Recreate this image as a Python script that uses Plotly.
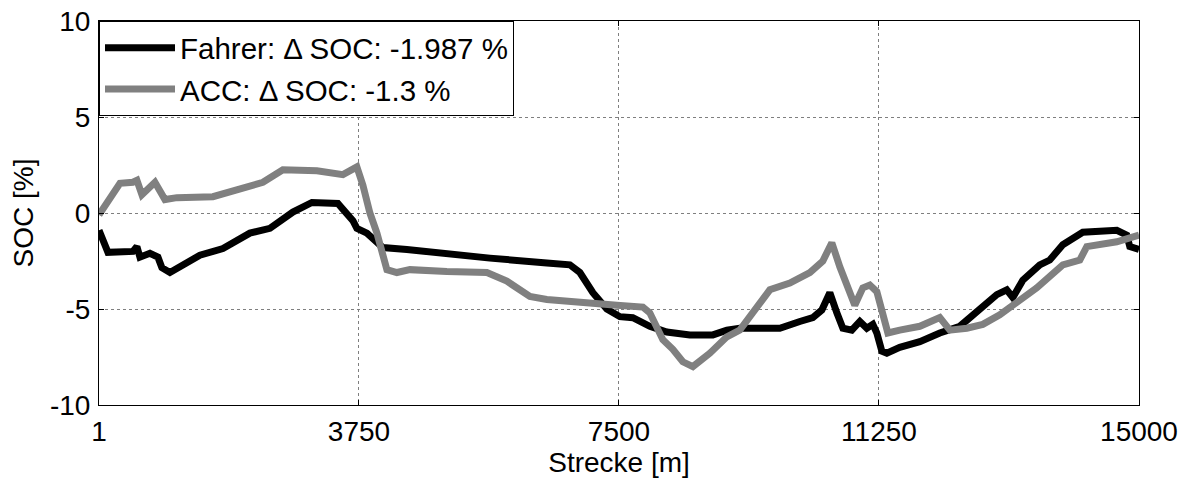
import plotly.graph_objects as go

# Strecke [m] and SOC [%]
fahrer_x = [1, 130, 490, 548, 591, 735, 851, 908, 1024, 1269, 1456, 1788, 2177, 2466,
            2797, 3072, 3446, 3663, 3720, 3865, 4095, 4441, 4917, 5638, 6460, 6792,
            6936, 7124, 7325, 7513, 7700, 7945, 8190, 8522, 8854, 9056, 9243, 9820,
            10108, 10296, 10426, 10541, 10642, 10729, 10858, 10974, 11075, 11161,
            11219, 11291, 11363, 11550, 11839, 12127, 12416, 12603, 12805, 12949,
            13093, 13180, 13324, 13569, 13713, 13901, 14189, 14680, 14824, 14867, 15000]
fahrer_soc = [-0.9, -2.05, -2.0, -1.75, -2.3, -2.1, -2.3, -2.85, -3.1, -2.6, -2.2, -1.85,
              -1.05, -0.8, 0.05, 0.55, 0.5, -0.4, -0.8, -1.05, -1.8, -1.9, -2.1, -2.35,
              -2.6, -2.7, -3.1, -4.15, -5.0, -5.4, -5.45, -5.9, -6.2, -6.35, -6.35,
              -6.1, -6.0, -6.0, -5.65, -5.45, -5.05, -4.15, -5.2, -6.0, -6.1, -5.65,
              -6.0, -5.8, -6.25, -7.2, -7.3, -7.0, -6.7, -6.25, -5.9, -5.3, -4.7,
              -4.25, -4.0, -4.4, -3.5, -2.7, -2.45, -1.65, -1.0, -0.9, -1.15, -1.75, -1.9]

acc_x = [1, 159, 303, 490, 548, 620, 808, 952, 1125, 1644, 2033, 2365, 2653, 3144,
         3519, 3720, 3807, 3908, 4009, 4153, 4297, 4485, 5018, 5595, 5883, 6215, 6460,
         6936, 7470, 7845, 7945, 8133, 8277, 8421, 8566, 8811, 9056, 9243, 9489, 9676,
         9964, 10253, 10440, 10570, 10685, 10786, 10901, 11017, 11118, 11219, 11291,
         11378, 11550, 11839, 12127, 12272, 12517, 12747, 12992, 13137, 13526, 13901,
         14146, 14247, 14680, 15000]
acc_soc = [-0.1, 0.85, 1.55, 1.6, 1.7, 0.95, 1.6, 0.7, 0.8, 0.85, 1.3, 1.6, 2.25, 2.2,
           2.0, 2.4, 1.45, 0.0, -1.05, -2.95, -3.1, -2.95, -3.05, -3.1, -3.55, -4.35,
           -4.5, -4.6, -4.8, -4.9, -5.2, -6.6, -7.1, -7.75, -8.0, -7.3, -6.45, -6.1,
           -4.95, -4.0, -3.65, -3.1, -2.5, -1.55, -2.8, -3.85, -4.8, -3.9, -3.75, -4.1,
           -5.2, -6.25, -6.1, -5.9, -5.45, -6.1, -6.0, -5.8, -5.3, -4.9, -3.9, -2.7,
           -2.45, -1.75, -1.5, -1.15]

x_ticks = [1, 3750, 7500, 11250, 15000]
y_ticks = [-10, -5, 0, 5, 10]

FONT = "Liberation Sans, Arial, sans-serif"

fig = go.Figure()
fig.add_trace(go.Scatter(x=fahrer_x, y=fahrer_soc, mode="lines",
                         name="Fahrer: \u0394 SOC: -1.987 %",
                         line=dict(color="#000000", width=7)))
fig.add_trace(go.Scatter(x=acc_x, y=acc_soc, mode="lines",
                         name="ACC: \u0394 SOC: -1.3 %",
                         line=dict(color="#808080", width=7)))

axis_common = dict(
    showline=True, linecolor="black", linewidth=1, mirror="ticks",
    ticks="inside", ticklen=5, tickcolor="black",
    showgrid=True, gridcolor="#7f7f7f", griddash="dot", gridwidth=1,
    zeroline=False, tickfont=dict(family=FONT, size=28, color="black"),
    automargin=False, ticklabeloverflow="allow",
)

fig.update_xaxes(range=[1, 15000], tickvals=x_ticks, ticktext=[str(v) for v in x_ticks],
                 title=dict(text="Strecke [m]", font=dict(family=FONT, size=28, color="black"),
                            standoff=0),
                 ticklabelstandoff=1, **axis_common)
fig.update_yaxes(range=[-10, 10], tickvals=y_ticks, ticktext=[str(v) for v in y_ticks],
                 title=dict(text="SOC [%]", font=dict(family=FONT, size=28, color="black"),
                            standoff=8),
                 ticklabelstandoff=2, **axis_common)

fig.update_layout(
    width=1184, height=472,
    margin=dict(l=91, r=53, t=13, b=75, autoexpand=False),
    paper_bgcolor="white", plot_bgcolor="white",
    font=dict(family=FONT, size=28, color="black"),
    showlegend=True,
    legend=dict(x=0, y=1, xanchor="left", yanchor="top",
                bgcolor="white", bordercolor="black", borderwidth=1,
                font=dict(family=FONT, size=29.5, color="black"),
                itemwidth=70, tracegroupgap=4),
)

fig.write_html("out.html")
